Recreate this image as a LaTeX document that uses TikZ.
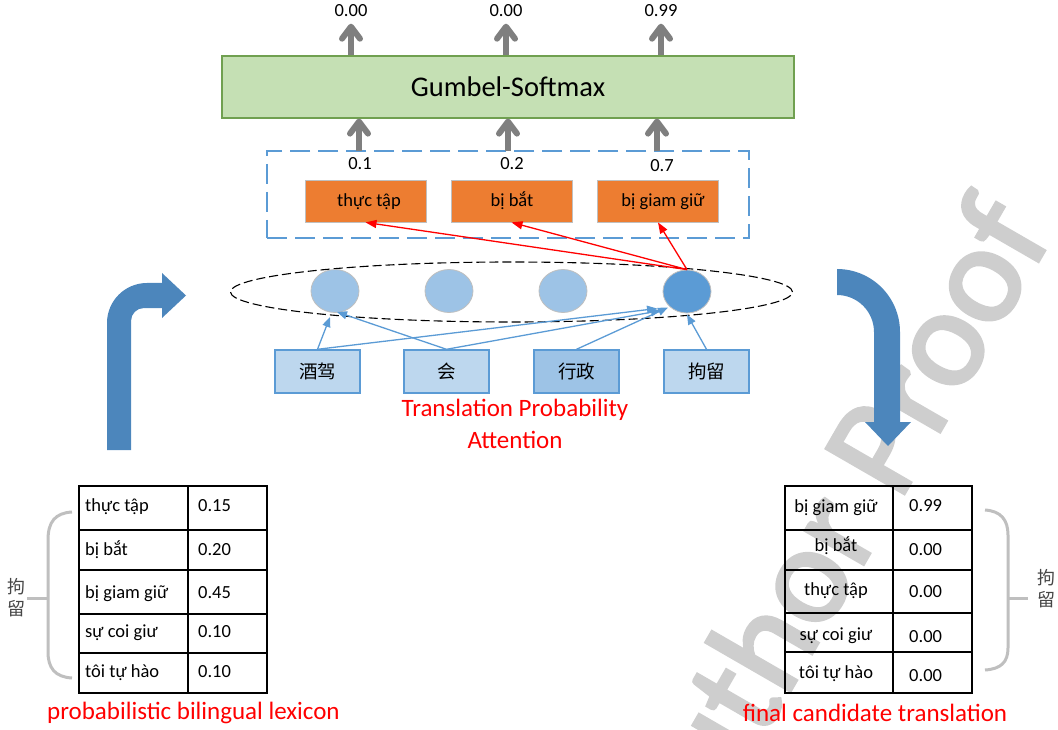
\documentclass[tikz,border=0pt]{standalone}
\usepackage{fontspec}
\setmainfont{Carlito}
\newfontfamily\cjk{Noto Sans CJK SC}
\newfontfamily\wmfont[FakeBold=2.5]{Carlito}
\usetikzlibrary{arrows.meta,calc,shapes.geometric}

\definecolor{gsfill}{RGB}{197,224,180}
\definecolor{gsline}{RGB}{112,160,80}
\definecolor{arrowgray}{RGB}{127,127,127}
\definecolor{blueline}{RGB}{91,155,213}
\definecolor{orangefill}{RGB}{237,125,49}
\definecolor{lightblue}{RGB}{157,195,230}
\definecolor{paleblue}{RGB}{189,215,238}
\definecolor{bigblue}{RGB}{76,134,188}
\definecolor{bracegray}{RGB}{191,191,191}
\definecolor{wmgray}{RGB}{206,206,206}
\definecolor{labelgray}{RGB}{70,70,70}

\tikzset{
  txt/.style={inner sep=0pt, font=\fontsize{18.5}{22}\selectfont, text height=13pt, text depth=4pt},
  redtxt/.style={inner sep=0pt, text=red, font=\fontsize{25}{30}\selectfont},
  gsbox/.style={draw=gsline, line width=1.2pt, fill=gsfill, minimum width=572pt, minimum height=62pt,
    font=\fontsize{28.5}{34}\selectfont},
  candbox/.style={draw=bracegray, line width=0.8pt, fill=orangefill, minimum width=121pt, minimum height=42pt},
  groupbox/.style={draw=blueline, line width=2.2pt, dash pattern=on 20pt off 8pt, minimum width=482pt, minimum height=87pt},
  wordbox/.style={draw=blueline, line width=1.4pt, fill=paleblue, minimum width=85pt, minimum height=43pt,
    font=\cjk\fontsize{18.5}{22}\selectfont},
  hidden/.style={ellipse, draw=bracegray, line width=0.8pt, fill=lightblue, minimum width=48pt, minimum height=43pt, inner sep=0pt},
  garrow/.style={draw=arrowgray, line width=6pt, -{Straight Barb[length=12pt,width=18pt,round]}},
  rarrow/.style={draw=red, line width=1.3pt, -{Triangle[length=11pt,width=8pt]}},
  barrow/.style={draw=blueline, line width=1.3pt, -{Triangle[length=10pt,width=8pt]}},
  tbl/.style={line width=2pt, line cap=rect},
  brace/.style={draw=bracegray, line width=3pt},
  sidechar/.style={inner sep=0pt, text=labelgray, font=\cjk\fontsize{18}{20}\selectfont},
}

\begin{document}
\begin{tikzpicture}[x=1pt,y=-1pt]
\useasboundingbox (0,0) rectangle (1058,730);

% background watermark
\begin{scope}
  \clip (0,0) rectangle (1058,730);
  \node[inner sep=0pt, text=wmgray, font=\wmfont\fontsize{140}{140}\selectfont, anchor=base east, rotate=60]
    (wm) at (1054,234) {Author Proof};
\end{scope}

% Gumbel-Softmax layer and its outputs
\node[gsbox] (gs) at (508,87) {Gumbel-Softmax};
\node[txt] (out1) at (351,12) {0.00};
\node[txt] (out2) at (506,12) {0.00};
\node[txt] (out3) at (661,12) {0.99};
\draw[garrow, shorten >=3pt] (gs.north -| out1) -- (out1.south);
\draw[garrow, shorten >=3pt] (gs.north -| out2) -- (out2.south);
\draw[garrow, shorten >=3pt] (gs.north -| out3) -- (out3.south);

% candidate translations
\node[groupbox] (db) at (508,194.5) {};
\coordinate (in1) at (359,151);
\coordinate (in2) at (508,151);
\coordinate (in3) at (657,151);
\draw[garrow] (in1) -- (gs.south -| in1);
\draw[garrow] (in2) -- (gs.south -| in2);
\draw[garrow] (in3) -- (gs.south -| in3);

\node[txt] (p1) at (360,165) {0.1};
\node[txt] (p2) at (512,165) {0.2};
\node[txt] (p3) at (662,167) {0.7};

\node[candbox] (ob1) at (365.5,201) {};
\node[candbox] (ob2) at (511.5,201) {};
\node[candbox] (ob3) at (658,201) {};
\node[txt] (ot1) at (369,202) {thực tập};
\node[txt] (ot2) at (512,202) {bị bắt};
\node[txt] (ot3) at (663,202) {bị giam giữ};

% attention states
\node[ellipse, draw, line width=1.1pt, dash pattern=on 9pt off 4pt, minimum width=562pt, minimum height=60pt] (el) at (511.5,292) {};
\node[hidden] (c1) at (335,291) {};
\node[hidden] (c2) at (449,291) {};
\node[hidden] (c3) at (563,291) {};
\node[hidden, fill=blueline] (c4) at (687,291.5) {};

\draw[rarrow] (c4.north) -- (ob1.south);
\draw[rarrow] (c4.north) -- (ob2.south);
\draw[rarrow] (c4.north) -- (ob3.south);

% source words
\node[wordbox] (z1) at (317.5,371.5) {酒驾};
\node[wordbox] (z2) at (446.5,371.5) {会};
\node[wordbox, fill=lightblue] (z3) at (576.5,371.5) {行政};
\node[wordbox] (z4) at (706.5,371.5) {拘留};

\draw[barrow] (z1.north) -- ($(c1)+(-5,26)$);
\draw[barrow] (z2.north) -- ($(c1)+(2,21)$);
\draw[barrow] (z1.north) -- ($(c4)+(-30,17)$);
\draw[barrow] (z2.north) -- ($(c4)+(-26,19)$);
\draw[barrow] (z3.north) -- ($(c4)+(-19,16)$);
\draw[barrow] (z4.north) -- ($(c4)+(0,23)$);

\node[redtxt] (tp1) at (515,410) {Translation Probability};
\node[redtxt] (tp2) at (515,440) {Attention};

% bent arrows
\fill[bigblue] (107,450) -- (107,323) arc[start angle=180,end angle=270,radius=40]
  -- (162,283) -- (162,273) -- (186,295.5) -- (162,318) -- (162,308) -- (144,308)
  arc[start angle=270,end angle=180,radius=13] -- (131,450) -- cycle;
\fill[bigblue] (837,269) arc[start angle=270,end angle=360,radius=63]
  -- (900,422) -- (911,422) -- (888,446) -- (865,422) -- (874,422) -- (874,332)
  arc[start angle=0,end angle=-90,radius=37] -- cycle;

% lexicon table
\draw[tbl] (79,486) rectangle (267,693);
\draw[tbl] (188,486) -- (188,693);
\foreach \y in {530,570,614,653} \draw[tbl] (79,\y) -- (267,\y);
\foreach \w/\v/\y [count=\i] in {thực tập/0.15/507, bị bắt/0.20/551, bị giam giữ/0.45/594, sự coi giư/0.10/633, tôi tự hào/0.10/673}{
  \node[txt, anchor=west] (lw\i) at (85,\y) {\w};
  \node[txt, anchor=west] (lp\i) at (198,\y) {\v};
}
\node[redtxt] (lexname) at (193.5,713) {probabilistic bilingual lexicon};

\draw[brace] (72,512) .. controls (55,513) and (48,522) .. (48,540) -- (48,652)
  .. controls (48,668) and (55,677) .. (72,678);
\draw[brace] (27,598) -- (48,598);
\node[sidechar] (lk1) at (17,587) {拘};
\node[sidechar] (lk2) at (17,609) {留};

% final candidate table
\draw[tbl] (785,486) rectangle (972,693);
\draw[tbl] (893,486) -- (893,693);
\foreach \y in {530,570,613,652} \draw[tbl] (785,\y) -- (972,\y);
\foreach \w/\y [count=\i] in {bị giam giữ/508, bị bắt/547, thực tập/591, sự coi giư/636, tôi tự hào/674}{
  \node[txt] (rw\i) at (836,\y) {\w};
}
\foreach \v/\y [count=\i] in {0.99/507, 0.00/551, 0.00/593, 0.00/638, 0.00/677}{
  \node[txt, anchor=west] (rp\i) at (909,\y) {\v};
}
\node[redtxt] (candname) at (875,713) {final candidate translation};

\draw[brace] (985,510) .. controls (1001,511) and (1008,520) .. (1008,535) -- (1008,648)
  .. controls (1008,662) and (1001,669) .. (985,670);
\draw[brace] (1008,598) -- (1028,598);
\node[sidechar] (rk1) at (1046,578) {拘};
\node[sidechar] (rk2) at (1046,600) {留};
\end{tikzpicture}
\end{document}
